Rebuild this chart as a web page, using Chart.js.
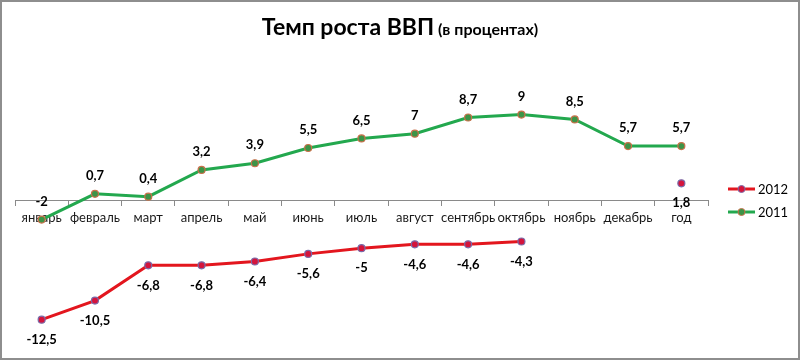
<!DOCTYPE html>
<html>
<head>
<meta charset="utf-8">
<script src="https://cdn.jsdelivr.net/npm/chart.js@4.4.1/dist/chart.umd.min.js"></script>
<style>
  html, body { margin: 0; padding: 0; background: #fff; }
  #wrap { position: relative; width: 800px; height: 360px; }
  #frame { position: absolute; left: 0; top: 0; width: 800px; height: 360px; box-sizing: border-box; border: 2px solid #8e8e8e; pointer-events: none; }
  #title { position: absolute; left: 0; top: 11px; width: 800px; text-align: center; font-family: Lato, "Open Sans", sans-serif; font-weight: bold; color: #000; line-height: 30px; }
  #title .main { font-size: 23px; }
  #title .sub { font-size: 16px; }
</style>
</head>
<body>
<div id="wrap">
  <canvas id="c" width="800" height="360"></canvas>
  <div id="title"><span class="main">Темп роста ВВП</span> <span class="sub">(в процентах)</span></div>
  <div id="frame"></div>
</div>
<script>
const categories = ["январь","февраль","март","апрель","май","июнь","июль","август","сентябрь","октябрь","ноябрь","декабрь","год"];
const values2012 = [-12.5, -10.5, -6.8, -6.8, -6.4, -5.6, -5, -4.6, -4.6, -4.3, null, null, 1.8];
const values2011 = [-2, 0.7, 0.4, 3.2, 3.9, 5.5, 6.5, 7, 8.7, 9, 8.5, 5.7, 5.7];
const seriesNames = ["2012", "2011"];

const FONT = 'Lato, "Open Sans", sans-serif';

const labelPlugin = {
  id: 'valueLabels',
  afterDatasetsDraw(chart) {
    const ctx = chart.ctx;
    ctx.save();
    ctx.textAlign = 'center';
    ctx.textBaseline = 'middle';
    ctx.fillStyle = '#000';
    chart.data.datasets.forEach((ds, di) => {
      const meta = chart.getDatasetMeta(di);
      meta.data.forEach((pt, i) => {
        const v = ds.data[i];
        if (v === null || v === undefined) return;
        const txt = String(v).replace('.', ',');
        const dy = di === 1 ? -18 : 20;
        ctx.font = 'bold 13px ' + FONT;
        ctx.fillText(txt, pt.x, pt.y + dy);
      });
    });
    ctx.restore();
  }
};

const legendPlugin = {
  id: 'sideLegend',
  afterDraw(chart) {
    const ctx = chart.ctx;
    ctx.save();
    const x0 = 728, x1 = 755;
    const ys = [189, 212];
    chart.data.datasets.forEach((ds, di) => {
      const y = ys[di];
      ctx.strokeStyle = ds.borderColor;
      ctx.lineWidth = 3;
      ctx.beginPath(); ctx.moveTo(x0, y); ctx.lineTo(x1, y); ctx.stroke();
      ctx.beginPath(); ctx.arc((x0 + x1) / 2, y, 3.5, 0, Math.PI * 2);
      ctx.fillStyle = ds.pointBackgroundColor; ctx.fill();
      ctx.lineWidth = 1; ctx.strokeStyle = ds.pointBorderColor; ctx.stroke();
      ctx.fillStyle = '#000';
      ctx.font = '13px ' + FONT;
      ctx.textAlign = 'left';
      ctx.textBaseline = 'middle';
      ctx.fillText(ds.label, 758, y + 1);
    });
    ctx.restore();
  }
};

new Chart(document.getElementById('c'), {
  type: 'line',
  data: {
    labels: categories,
    datasets: [
      {
        label: seriesNames[0],
        data: values2012,
        borderColor: '#e3161e',
        borderWidth: 3,
        pointRadius: 3.5,
        pointBorderWidth: 1.2,
        pointBackgroundColor: '#d4143c',
        pointBorderColor: '#7a6aa8',
        tension: 0,
        spanGaps: false
      },
      {
        label: seriesNames[1],
        data: values2011,
        borderColor: '#23a84e',
        borderWidth: 3,
        pointRadius: 3.5,
        pointBorderWidth: 1.2,
        pointBackgroundColor: '#3c9447',
        pointBorderColor: '#c8704a',
        tension: 0
      }
    ]
  },
  options: {
    responsive: false,
    animation: false,
    layout: { padding: { left: 15, right: 92, top: 86, bottom: 26 } },
    plugins: { legend: { display: false }, title: { display: false }, tooltip: { enabled: false } },
    scales: {
      x: {
        type: 'category',
        position: { y: 0 },
        offset: true,
        grid: { offset: true, drawOnChartArea: false, drawTicks: true, tickLength: 5, color: '#8a8a8a', lineWidth: 1 },
        border: { display: true, color: '#8a8a8a', width: 1 },
        ticks: { color: '#1a1a1a', font: { family: FONT, size: 13 }, padding: 5, maxRotation: 0, autoSkip: false }
      },
      y: {
        display: false,
        min: -14,
        max: 12
      }
    }
  },
  plugins: [labelPlugin, legendPlugin]
});
</script>
</body>
</html>
